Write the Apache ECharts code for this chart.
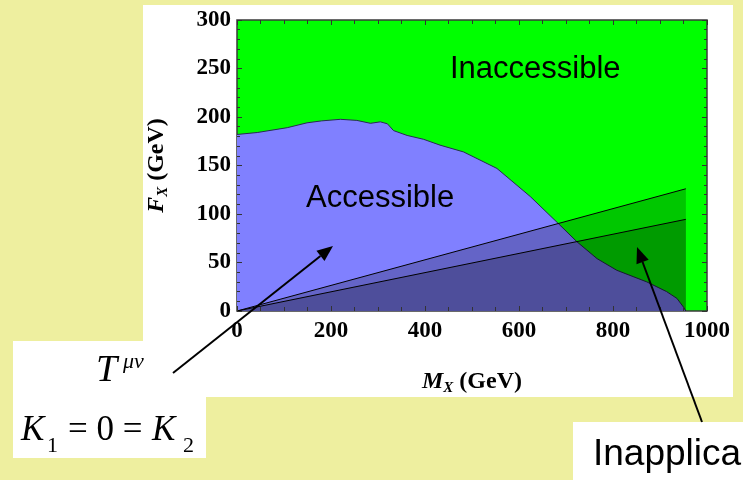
<!DOCTYPE html>
<html>
<head>
<meta charset="utf-8">
<title>Accessible region</title>
<script src="https://cdn.jsdelivr.net/npm/echarts@6/dist/echarts.min.js"></script>
<style>
  html, body { margin: 0; padding: 0; }
  #chart { width: 743px; height: 480px; }
</style>
</head>
<body>
<div id="chart"></div>
<script>
// edge of the accessible region: M_X (GeV) against F_X (GeV)
const massGeV = [0, 43, 107, 149, 180, 220, 255, 284, 305, 320, 333, 362, 397, 432, 482, 553, 624, 684, 723, 766, 808, 872, 914, 936, 950, 955]
const accessibleF = [182, 184, 189, 194, 196, 197.6, 196.5, 193.5, 195, 193, 186, 181, 177, 171, 164, 147, 118, 90, 71.5, 54, 42, 30, 20, 13, 4, 0]

// the two straight lines out of the origin
const lineMass = [0, 955]
const upperLineF = [0, 126]
const lowerLineF = [0, 94.5]

// tick labels
const xTicks = [0, 200, 400, 600, 800, 1000]
const yTicks = [0, 50, 100, 150, 200, 250, 300]

const zip = (xs, ys) => xs.map((x, i) => [x, ys[i]])

const serif = "'Liberation Serif', 'Times New Roman', serif"
const sans = "'Liberation Sans', Arial, sans-serif"

// arrow = shaft + filled head
function arrow (x1, y1, x2, y2) {
  const len = Math.hypot(x2 - x1, y2 - y1)
  const ux = (x2 - x1) / len
  const uy = (y2 - y1) / len
  const bx = x2 - ux * 16
  const by = y2 - uy * 16
  return [
    { type: 'line', z: 100, shape: { x1: x1, y1: y1, x2: bx, y2: by }, style: { stroke: '#000', lineWidth: 2 } },
    { type: 'polygon', z: 100, shape: { points: [[x2, y2], [bx - uy * 6.5, by + ux * 6.5], [bx + uy * 6.5, by - ux * 6.5]] }, style: { fill: '#000' } }
  ]
}

function txt (text, x, y, size, family, italic) {
  return {
    type: 'text',
    z: 100,
    x: x,
    y: y,
    style: {
      text: text,
      fontSize: size,
      fontFamily: family,
      fontStyle: italic ? 'italic' : 'normal',
      fill: '#000',
      align: 'left',
      textAlign: 'left',
      verticalAlign: 'middle',
      textVerticalAlign: 'middle'
    }
  }
}

const nameRich = {
  i: { color: '#000', fontFamily: serif, fontWeight: 'bold', fontStyle: 'italic', fontSize: 24, lineHeight: 28, verticalAlign: 'middle' },
  s: { color: '#000', fontFamily: serif, fontWeight: 'bold', fontStyle: 'italic', fontSize: 15, lineHeight: 20, verticalAlign: 'bottom', padding: [0, 6, 0, 0] },
  b: { color: '#000', fontFamily: serif, fontWeight: 'bold', fontSize: 24, lineHeight: 28, verticalAlign: 'middle' }
}

const tickLabel = { color: '#000', fontFamily: serif, fontWeight: 'bold', fontSize: 23, formatter: v => String(v) }
const tickLine = { color: '#333', width: 1 }
// frame is drawn by the grid border; axes only give the inward ticks
const noLine = { show: false, onZero: false }

const chart = echarts.init(document.getElementById('chart'))

const option = {
  backgroundColor: '#eeef9f',
  animation: false,
  grid: {
    left: 237,
    top: 20,
    width: 470,
    height: 291,
    show: true,
    backgroundColor: '#00ff00',
    borderColor: '#3a3a3a',
    borderWidth: 1.5
  },
  xAxis: [
    {
      type: 'value',
      z: 10,
      min: xTicks[0],
      max: xTicks[xTicks.length - 1],
      interval: xTicks[1] - xTicks[0],
      axisLine: noLine,
      axisTick: { inside: true, length: 5, lineStyle: tickLine },
      minorTick: { show: true, splitNumber: 4, length: 4, lineStyle: tickLine },
      splitLine: { show: false },
      axisLabel: Object.assign({ margin: 9 }, tickLabel),
      name: '{i|M}{s|X}{b|(GeV)}',
      nameLocation: 'middle',
      nameGap: 57,
      nameTextStyle: { rich: nameRich }
    },
    {
      type: 'value',
      z: 10,
      position: 'top',
      min: xTicks[0],
      max: xTicks[xTicks.length - 1],
      interval: xTicks[1] - xTicks[0],
      axisLine: noLine,
      axisTick: { inside: true, length: 5, lineStyle: tickLine },
      minorTick: { show: true, splitNumber: 4, length: 4, lineStyle: tickLine },
      splitLine: { show: false },
      axisLabel: { show: false }
    }
  ],
  yAxis: [
    {
      type: 'value',
      z: 10,
      min: yTicks[0],
      max: yTicks[yTicks.length - 1],
      interval: yTicks[1] - yTicks[0],
      axisLine: noLine,
      axisTick: { inside: true, length: 5, lineStyle: tickLine },
      minorTick: { show: true, splitNumber: 5, length: 3, lineStyle: tickLine },
      splitLine: { show: false },
      axisLabel: Object.assign({ margin: 6 }, tickLabel),
      name: '{i|F}{s|X}{b|(GeV)}',
      nameLocation: 'middle',
      nameGap: 66,
      nameRotate: 90,
      nameTextStyle: { rich: nameRich }
    },
    {
      type: 'value',
      z: 10,
      position: 'right',
      min: yTicks[0],
      max: yTicks[yTicks.length - 1],
      interval: yTicks[1] - yTicks[0],
      axisLine: noLine,
      axisTick: { inside: true, length: 5, lineStyle: tickLine },
      minorTick: { show: true, splitNumber: 5, length: 3, lineStyle: tickLine },
      splitLine: { show: false },
      axisLabel: { show: false }
    }
  ],
  series: [
    {
      name: 'Accessible',
      type: 'line',
      data: zip(massGeV, accessibleF),
      symbol: 'none',
      z: 2,
      lineStyle: { color: '#2a2a50', width: 1 },
      areaStyle: { color: '#8080ff', opacity: 1 }
    },
    {
      name: 'upper line',
      type: 'line',
      data: zip(lineMass, upperLineF),
      symbol: 'none',
      z: 3,
      lineStyle: { color: '#000', width: 1 },
      areaStyle: { color: 'rgba(0,0,0,0.22)', opacity: 1 }
    },
    {
      name: 'lower line',
      type: 'line',
      data: zip(lineMass, lowerLineF),
      symbol: 'none',
      z: 4,
      lineStyle: { color: '#000', width: 1 },
      areaStyle: { color: 'rgba(0,0,0,0.22)', opacity: 1 }
    }
  ],
  graphic: [
    // white panels on the yellow slide
    { type: 'rect', z: -10, shape: { x: 143, y: 5, width: 590, height: 392 }, style: { fill: '#fff' } },
    { type: 'rect', z: -10, shape: { x: 13, y: 341, width: 193, height: 117 }, style: { fill: '#fff' } },
    { type: 'rect', z: -10, shape: { x: 573, y: 422, width: 200, height: 80 }, style: { fill: '#fff' } },
    // region names
    txt('Inaccessible', 450, 69, 31, sans, false),
    txt('Accessible', 306, 198, 31, sans, false),
    txt('Inapplicable', 593, 455, 37, sans, false),
    // T^{mu nu}
    txt('T', 96, 371, 38, serif, true),
    txt('μν', 123, 362, 22, serif, true),
    // K_1 = 0 = K_2
    txt('K', 21, 431, 35, serif, true),
    txt('1', 47, 446, 22, serif, false),
    txt('= 0 =', 68, 431, 35, serif, false),
    txt('K', 152, 431, 35, serif, true),
    txt('2', 183, 446, 22, serif, false)
  ].concat(arrow(173, 373, 333, 246), arrow(702, 422, 637, 247))
}

chart.setOption(option)
</script>
</body>
</html>
